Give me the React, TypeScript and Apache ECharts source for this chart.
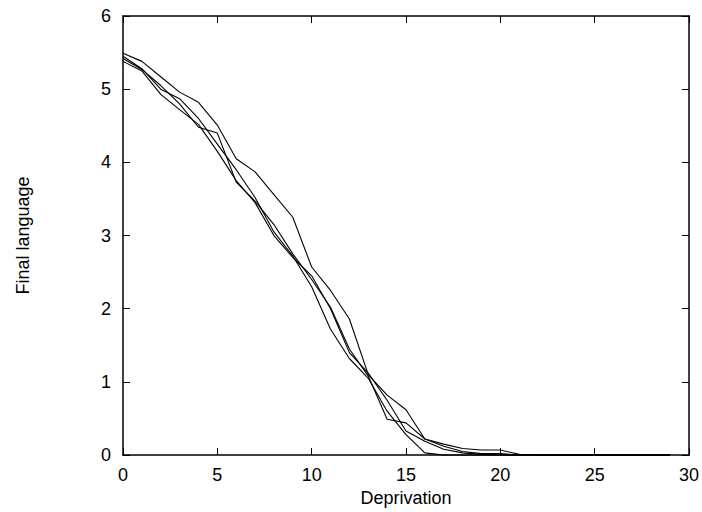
import React, { useEffect, useRef } from "react";
import * as echarts from "echarts";

const deprivation = [0,1,2,3,4,5,6,7,8,9,10,11,12,13,14,15,16,17,18,19,20,21,22,23,24,25,26,27,28,29];

const runA = [5.49,5.38,5.17,4.96,4.82,4.51,4.05,3.87,3.56,3.25,2.57,2.25,1.86,1.1,0.82,0.62,0.22,0.15,0.09,0.07,0.07,0.01,0,0,0,0,0,0,0,0];
const runB = [5.42,5.27,5.05,4.8,4.48,4.4,3.73,3.47,3.15,2.75,2.4,2.02,1.45,1.08,0.49,0.44,0.22,0.12,0.05,0.02,0.02,0,0,0,0,0,0,0,0,0];
const runC = [5.45,5.28,5.0,4.87,4.6,4.25,3.9,3.52,3.05,2.72,2.3,1.72,1.32,1.05,0.6,0.28,0.03,0,0,0,0,0,0,0,0,0,0,0,0,0];
const runD = [5.38,5.25,4.93,4.72,4.52,4.15,3.75,3.45,3.0,2.7,2.45,2.0,1.4,1.12,0.75,0.33,0.19,0.08,0.03,0.01,0,0,0,0,0,0,0,0,0,0];

const runs = [runA, runB, runC, runD];

const xTicks = [0, 5, 10, 15, 20, 25, 30];
const yTicks = [0, 1, 2, 3, 4, 5, 6];

const FONT = "Liberation Sans, Arial, Helvetica, sans-serif";

export default function App() {
  const ref = useRef<HTMLDivElement>(null);
  useEffect(() => {
    if (!ref.current) return;
    const chart = echarts.init(ref.current, undefined, { renderer: "svg" });
    const axisLine = { show: true, onZero: false, lineStyle: { color: "#000", width: 1.5 } };
    const tickStyle = { show: true, inside: true, length: 7, lineStyle: { color: "#000", width: 1 } };
    const label = { color: "#000", fontSize: 18, fontFamily: FONT };
    chart.setOption({
      animation: false,
      backgroundColor: "#fff",
      grid: { left: 123, right: 10, top: 16, bottom: 51, containLabel: false },
      xAxis: [
        {
          type: "value",
          min: xTicks[0],
          max: xTicks[xTicks.length - 1],
          interval: 5,
          position: "bottom",
          axisLine,
          axisTick: tickStyle,
          splitLine: { show: false },
          axisLabel: { ...label, margin: 11 },
          name: "Deprivation",
          nameLocation: "middle",
          nameGap: 29,
          nameTextStyle: { color: "#000", fontSize: 18, fontFamily: FONT },
        },
        {
          type: "value",
          min: xTicks[0],
          max: xTicks[xTicks.length - 1],
          interval: 5,
          position: "top",
          axisLine,
          axisTick: tickStyle,
          splitLine: { show: false },
          axisLabel: { show: false },
        },
      ],
      yAxis: [
        {
          type: "value",
          min: yTicks[0],
          max: yTicks[yTicks.length - 1],
          interval: 1,
          position: "left",
          axisLine,
          axisTick: tickStyle,
          splitLine: { show: false },
          axisLabel: { ...label, margin: 12 },
          name: "Final language",
          nameLocation: "middle",
          nameGap: 91,
          nameRotate: 90,
          nameTextStyle: { color: "#000", fontSize: 18, fontFamily: FONT },
        },
        {
          type: "value",
          min: yTicks[0],
          max: yTicks[yTicks.length - 1],
          interval: 1,
          position: "right",
          axisLine,
          axisTick: tickStyle,
          splitLine: { show: false },
          axisLabel: { show: false },
        },
      ],
      series: runs.map((r, i) => ({
        name: "run" + (i + 1),
        type: "line",
        xAxisIndex: 0,
        yAxisIndex: 0,
        data: deprivation.map((x, j) => [x, r[j]]),
        showSymbol: false,
        symbol: "none",
        lineStyle: { color: "#000", width: 1.1 },
        z: 3,
      })),
    });
    return () => chart.dispose();
  }, []);
  return (
    <div
      ref={ref}
      style={{ position: "fixed", left: 0, top: 0, width: 702, height: 512, background: "#fff" }}
    />
  );
}
